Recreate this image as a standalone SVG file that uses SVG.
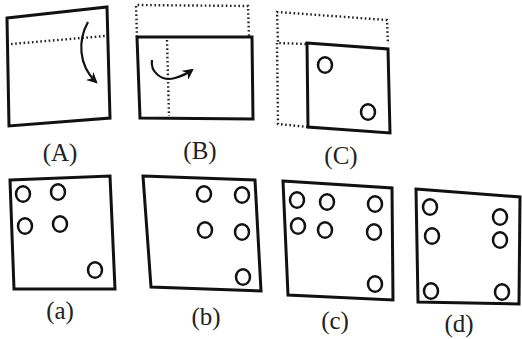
<svg xmlns="http://www.w3.org/2000/svg" width="522" height="339" viewBox="0 0 522 339">
<style>
.box{fill:none;stroke:#111;stroke-width:3;stroke-linejoin:miter}
.dot{fill:none;stroke:#222;stroke-width:2.4;stroke-dasharray:1.6 2.6}
.hole{fill:none;stroke:#111;stroke-width:2.5}
.arr{fill:none;stroke:#111;stroke-width:2.2}
.lbl{font-family:"Liberation Serif",serif;font-size:25px;fill:#222;text-anchor:middle}
</style>
<defs>
<marker id="ah" viewBox="0 0 10 10" refX="8" refY="5" markerWidth="5" markerHeight="5" orient="auto">
<path d="M0,0 L10,5 L0,10 L3,5 Z" fill="#111"/>
</marker>
</defs>
<rect width="522" height="339" fill="#fff"/>
<g id="figA">
<polygon class="box" points="7,18 107,7 110,118 9,126"/>
<line class="dot" x1="11" y1="44" x2="105" y2="36"/>
<path class="arr" d="M88,22 C78,40 78,65 96,82" marker-end="url(#ah)"/>
<text class="lbl" x="60" y="161">(A)</text>
</g>
<g id="figB">
<polyline class="dot" points="137,37 136,5 248,6 249,37"/>
<polygon class="box" points="137,37 252,37 253,119 140,118"/>
<line class="dot" x1="167" y1="40" x2="169" y2="116"/>
<path class="arr" d="M152,60 C150,72 162,82 175,78 C182,76 188,73 192,70" marker-end="url(#ah)"/>
<text class="lbl" x="200" y="159">(B)</text>
</g>
<g id="figC">
<polyline class="dot" points="306,44 278,43 277,12 387,20 388,44"/>
<polyline class="dot" points="277,43 278,124 308,127"/>
<polygon class="box" points="307,43 388,49 390,133 308,127"/>
<ellipse class="hole" cx="325" cy="65" rx="7" ry="7.8"/>
<ellipse class="hole" cx="368" cy="112" rx="7" ry="7.8"/>
<text class="lbl" x="341" y="164">(C)</text>
</g>
<g id="opta">
<polygon class="box" points="10,180 110,176 115,289 14,289"/>
<ellipse class="hole" cx="23" cy="194" rx="7" ry="7.8"/>
<ellipse class="hole" cx="58" cy="192" rx="7" ry="7.8"/>
<ellipse class="hole" cx="25" cy="226" rx="7" ry="7.8"/>
<ellipse class="hole" cx="60" cy="224" rx="7" ry="7.8"/>
<ellipse class="hole" cx="95" cy="270" rx="7" ry="7.8"/>
<text class="lbl" x="60" y="319">(a)</text>
</g>
<g id="optb">
<polygon class="box" points="143,176 255,180 261,291 151,287"/>
<ellipse class="hole" cx="204" cy="194" rx="7" ry="7.8"/>
<ellipse class="hole" cx="242" cy="195" rx="7" ry="7.8"/>
<ellipse class="hole" cx="205" cy="230" rx="7" ry="7.8"/>
<ellipse class="hole" cx="242" cy="232" rx="7" ry="7.8"/>
<ellipse class="hole" cx="243" cy="277" rx="7" ry="7.8"/>
<text class="lbl" x="206" y="325">(b)</text>
</g>
<g id="optc">
<polygon class="box" points="283,181 392,188 393,300 288,295"/>
<ellipse class="hole" cx="297" cy="200" rx="7" ry="7.8"/>
<ellipse class="hole" cx="327" cy="202" rx="7" ry="7.8"/>
<ellipse class="hole" cx="375" cy="204" rx="7" ry="7.8"/>
<ellipse class="hole" cx="298" cy="226" rx="7" ry="7.8"/>
<ellipse class="hole" cx="325" cy="230" rx="7" ry="7.8"/>
<ellipse class="hole" cx="374" cy="232" rx="7" ry="7.8"/>
<ellipse class="hole" cx="375" cy="284" rx="7" ry="7.8"/>
<text class="lbl" x="335" y="329">(c)</text>
</g>
<g id="optd">
<polygon class="box" points="416,189 520,197 519,304 418,302"/>
<ellipse class="hole" cx="430" cy="207" rx="7" ry="7.8"/>
<ellipse class="hole" cx="500" cy="217" rx="7" ry="7.8"/>
<ellipse class="hole" cx="432" cy="236" rx="7" ry="7.8"/>
<ellipse class="hole" cx="500" cy="240" rx="7" ry="7.8"/>
<ellipse class="hole" cx="431" cy="291" rx="7" ry="7.8"/>
<ellipse class="hole" cx="502" cy="292" rx="7" ry="7.8"/>
<text class="lbl" x="459" y="332">(d)</text>
</g>
<g id="connectors"/>
</svg>
